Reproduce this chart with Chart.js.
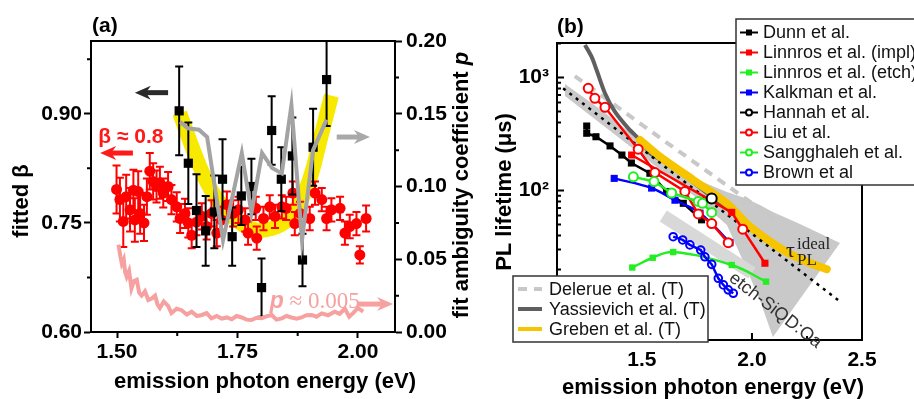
<!DOCTYPE html>
<html>
  <head>
    <meta charset="UTF-8" />
    <title>Fitted beta and PL lifetime</title>
    <script src="https://cdn.jsdelivr.net/npm/chart.js"></script>
    <style>
      body {
        margin: 0;
        background: #fff;
      }
      #wrap {
        position: relative;
        width: 914px;
        height: 399px;
      }
      #wrap canvas {
        position: absolute;
        left: 0;
        top: 0;
      }
    </style>
  </head>
  <body>
    <div id="wrap">
      <canvas id="chartA" width="914" height="399"></canvas>
      <canvas id="chartB" width="914" height="399"></canvas>
    </div>
    <script>
      // ---------- panel (a): fitted beta (left axis) ----------
      const betaE = [1.499, 1.506, 1.513, 1.519, 1.527, 1.534, 1.537, 1.544, 1.548, 1.556, 1.562, 1.568, 1.575, 1.582, 1.589, 1.596, 1.606, 1.613, 1.624, 1.631, 1.641, 1.648, 1.655, 1.665, 1.676, 1.686, 1.696, 1.707, 1.717, 1.728, 1.741, 1.752, 1.766, 1.772, 1.788, 1.79, 1.804, 1.817, 1.828, 1.842, 1.851, 1.865, 1.869, 1.88, 1.9, 1.911, 1.925, 1.935, 1.945, 1.963, 1.973, 1.983, 1.997, 2.004, 2.017];
      const betaVal = [0.796, 0.782, 0.752, 0.786, 0.768, 0.795, 0.754, 0.793, 0.763, 0.75, 0.786, 0.821, 0.807, 0.8, 0.805, 0.791, 0.8, 0.782, 0.772, 0.756, 0.763, 0.75, 0.733, 0.751, 0.759, 0.745, 0.763, 0.736, 0.754, 0.775, 0.763, 0.768, 0.754, 0.736, 0.77, 0.729, 0.756, 0.772, 0.759, 0.772, 0.77, 0.791, 0.749, 0.763, 0.756, 0.791, 0.782, 0.756, 0.768, 0.77, 0.736, 0.745, 0.749, 0.706, 0.756];
      const betaErr = [0.033, 0.03, 0.035, 0.03, 0.03, 0.028, 0.03, 0.028, 0.028, 0.025, 0.025, 0.025, 0.025, 0.022, 0.022, 0.02, 0.02, 0.02, 0.02, 0.02, 0.02, 0.02, 0.018, 0.018, 0.018, 0.018, 0.018, 0.018, 0.018, 0.018, 0.018, 0.018, 0.016, 0.016, 0.016, 0.016, 0.016, 0.016, 0.016, 0.016, 0.016, 0.016, 0.016, 0.016, 0.016, 0.016, 0.016, 0.016, 0.016, 0.016, 0.016, 0.016, 0.016, 0.012, 0.018];

      const sqE = [1.629, 1.648, 1.665, 1.684, 1.702, 1.719, 1.739, 1.758, 1.779, 1.8, 1.821, 1.841, 1.864, 1.885, 1.907, 1.935];
      const sqBeta = [0.904, 0.832, 0.767, 0.739, 0.765, 0.81, 0.731, 0.787, 0.8, 0.661, 0.877, 0.81, 0.842, 0.699, 0.854, 0.947];
      const sqErr = [0.061, 0.056, 0.05, 0.048, 0.05, 0.055, 0.04, 0.04, 0.038, 0.04, 0.047, 0.044, 0.053, 0.036, 0.053, 0.064];

      const bandE = [1.63, 1.672, 1.7, 1.73, 1.76, 1.79, 1.82, 1.85, 1.875, 1.9, 1.92, 1.945];
      const bandBeta = [0.901, 0.827, 0.79, 0.765, 0.748, 0.74, 0.742, 0.752, 0.772, 0.81, 0.86, 0.925];

      // panel (a): fit ambiguity coefficient p (right axis)
      const grayE = [1.631, 1.647, 1.67, 1.687, 1.72, 1.759, 1.779, 1.801, 1.822, 1.842, 1.862, 1.884, 1.907, 1.935];
      const grayP = [0.1445, 0.14, 0.139, 0.134, 0.063, 0.123, 0.082, 0.123, 0.1127, 0.109, 0.156, 0.063, 0.125, 0.146];

      const pinkE = [1.503, 1.507, 1.51, 1.514, 1.517, 1.52, 1.525, 1.53, 1.535, 1.541, 1.546, 1.551, 1.558, 1.565, 1.572, 1.579, 1.584, 1.589, 1.597, 1.606, 1.613, 1.624, 1.634, 1.645, 1.655, 1.666, 1.676, 1.686, 1.696, 1.707, 1.717, 1.728, 1.738, 1.748, 1.759, 1.769, 1.779, 1.79, 1.8, 1.81, 1.821, 1.831, 1.842, 1.852, 1.862, 1.873, 1.883, 1.893, 1.904, 1.914, 1.925, 1.938, 1.952, 1.962, 1.973, 1.982, 1.99, 2.0, 2.011];
      const pinkP = [0.06, 0.052, 0.047, 0.05, 0.041, 0.038, 0.042, 0.03, 0.035, 0.036, 0.027, 0.025, 0.028, 0.022, 0.023, 0.025, 0.019, 0.0165, 0.021, 0.018, 0.013, 0.016, 0.015, 0.012, 0.014, 0.011, 0.0117, 0.013, 0.0094, 0.011, 0.0092, 0.01, 0.0087, 0.011, 0.01, 0.0085, 0.0082, 0.0098, 0.0094, 0.0108, 0.0117, 0.0085, 0.0094, 0.011, 0.01, 0.0092, 0.01, 0.0115, 0.0117, 0.0105, 0.0128, 0.0115, 0.014, 0.0125, 0.016, 0.0105, 0.013, 0.0165, 0.014];

      const eTicksA = [1.5, 1.75, 2.0];
      const eMinorA = [1.625, 1.875];
      const betaTicks = [0.6, 0.75, 0.9];
      const betaMinor = [0.675, 0.825, 0.975];
      const pTicks = [0, 0.05, 0.1, 0.15, 0.2];
      const pMinor = [0.025, 0.075, 0.125, 0.175];

      // ---------- panel (b): PL lifetime (us) ----------
      const dunnE = [1.249, 1.249, 1.291, 1.355, 1.409, 1.452, 1.536, 1.612, 1.688, 1.771];
      const dunnTau = [372, 321, 299, 248, 206, 175, 142, 98, 77, 55];
      const linImplE = [1.453, 1.908, 2.059];
      const linImplTau = [206, 64, 22.7];
      const linEtchE = [1.456, 1.549, 1.642, 1.908, 2.064];
      const linEtchTau = [20.8, 25.4, 28.5, 21.9, 15.6];
      const kalkE = [1.374, 1.544, 1.65, 1.764, 1.9];
      const kalkTau = [128, 105, 82, 63, 34.5];
      const hannahE = [1.817];
      const hannahTau = [85];
      const liuE = [1.256, 1.286, 1.332, 1.483, 1.559, 1.695, 1.756, 1.817, 1.892];
      const liuTau = [802, 654, 545, 232, 144, 98, 62, 51, 34.5];
      const liuLoneE = [1.958];
      const liuLoneTau = [45.5];
      const sangE = [1.461, 1.555, 1.635, 1.756, 1.775, 1.817];
      const sangTau = [132, 120, 95, 80, 77, 64];
      const brownE = [1.642, 1.685, 1.718, 1.767, 1.786, 1.817, 1.847, 1.87, 1.892, 1.915];
      const brownTau = [39, 36.5, 33, 29.7, 25.9, 22.2, 16.7, 14.6, 13.2, 12.3];

      // theory curves
      const delerueE = [1.195, 1.6, 2.097];
      const delerueTau = [1030, 276, 56.8];
      const yassE = [1.241, 1.271, 1.294, 1.332, 1.377, 1.438, 1.499, 1.536, 1.605, 1.71, 1.817, 1.9];
      const yassTau = [1940, 1528, 1165, 725, 498, 355, 270, 215, 178, 128, 88, 66];
      const grebenE = [1.491, 1.582, 1.733, 1.885, 1.991, 2.142, 2.249, 2.34];
      const grebenTau = [280, 199, 124, 77, 47.9, 29.7, 23.4, 20.1];
      const idealE = [1.142, 2.4];
      const idealTau = [802, 10.4];
      const fanE = [1.15, 1.309, 1.491, 1.732, 1.886, 1.968, 2.036, 2.095, 2.218, 2.4];
      const fanHigh = [876, 526, 280, 129, 97, 85.8, 74.4, 64.5, 50.5, 34.3];
      const fanLow = [686, 396, 210, 91.3, 49.5, 21.9, 10.7, 5.05, 10.96, 34.3];
      const etchBandE = [1.597, 2.0];
      const etchBandTau = [59.5, 18.6];

      const eTicksB = [1.5, 2.0, 2.5];
      const eMinorB = [1.25, 1.75, 2.25];
      const tauTicks = [100, 1000];
      const tauTickLabels = ["10²", "10³"];
      const tauMinor = [5, 6, 7, 8, 9, 20, 30, 40, 50, 60, 70, 80, 90, 200, 300, 400, 500, 600, 700, 800, 900, 2000];

      const refNames = ["Dunn et al.", "Linnros et al. (impl)", "Linnros et al. (etch)", "Kalkman et al.", "Hannah et al.", "Liu et al.", "Sangghaleh et al.", "Brown et al"];
      const theoryNames = ["Delerue et al. (T)", "Yassievich et al. (T)", "Greben et al. (T)"];

      // ---------- helpers ----------
      const SANS = "'Liberation Sans', Arial, sans-serif";
      const SERIF = "'Liberation Serif', 'Times New Roman', serif";
      const tickFont = { family: SANS, size: 21, weight: "bold" };
      const pts = (xs, ys) => xs.map((x, i) => ({ x: x, y: ys[i] }));

      function arrow(ctx, x1, x2, y, color, w) {
        const dir = Math.sign(x2 - x1);
        ctx.strokeStyle = color;
        ctx.fillStyle = color;
        ctx.lineWidth = w;
        ctx.beginPath();
        ctx.moveTo(x1, y);
        ctx.lineTo(x2 - dir * 10, y);
        ctx.stroke();
        ctx.beginPath();
        ctx.moveTo(x2, y);
        ctx.lineTo(x2 - dir * 16, y - 7);
        ctx.lineTo(x2 - dir * 11, y);
        ctx.lineTo(x2 - dir * 16, y + 7);
        ctx.closePath();
        ctx.fill();
      }

      function upText(ctx, parts, cx, cy) {
        // parts: [[text, font], ...] drawn rotated -90deg, centred on cy, baseline at cx
        ctx.save();
        ctx.translate(cx, cy);
        ctx.rotate(-Math.PI / 2);
        ctx.textBaseline = "alphabetic";
        ctx.textAlign = "left";
        let total = 0;
        parts.forEach((p) => {
          ctx.font = p[1];
          total += ctx.measureText(p[0]).width;
        });
        let x = -total / 2;
        parts.forEach((p) => {
          ctx.font = p[1];
          ctx.fillText(p[0], x, 0);
          x += ctx.measureText(p[0]).width;
        });
        ctx.restore();
      }

      // error bars drawn just before their dataset
      const errorBars = {
        id: "errorBars",
        beforeDatasetDraw(chart, args) {
          const ds = chart.data.datasets[args.index];
          if (!ds.errors) return;
          const ctx = chart.ctx;
          const a = chart.chartArea;
          const ys = chart.scales[ds.yAxisID];
          ctx.save();
          ctx.beginPath();
          ctx.rect(a.left, a.top, a.right - a.left, a.bottom - a.top);
          ctx.clip();
          ctx.strokeStyle = ds.errColor;
          ctx.lineWidth = ds.errWidth;
          ctx.beginPath();
          ds.data.forEach((p, i) => {
            const x = args.meta.data[i].x;
            const top = ys.getPixelForValue(p.y + ds.errors[i]);
            const bot = ys.getPixelForValue(p.y - ds.errors[i]);
            const c = ds.errCap;
            ctx.moveTo(x, top);
            ctx.lineTo(x, bot);
            ctx.moveTo(x - c, top);
            ctx.lineTo(x + c, top);
            ctx.moveTo(x - c, bot);
            ctx.lineTo(x + c, bot);
          });
          ctx.stroke();
          ctx.restore();
        },
      };

      // frame, minor ticks, titles and notes of panel (a)
      const decorA = {
        id: "decorA",
        afterDraw(chart) {
          const { ctx, chartArea: a } = chart;
          const sx = chart.scales.x, sl = chart.scales.yL, sr = chart.scales.yR;
          ctx.save();
          ctx.strokeStyle = "#000";
          ctx.lineWidth = 2;
          ctx.strokeRect(a.left, a.top, a.right - a.left, a.bottom - a.top);
          ctx.beginPath();
          betaMinor.forEach((v) => {
            const y = sl.getPixelForValue(v);
            ctx.moveTo(a.left, y);
            ctx.lineTo(a.left - 4, y);
          });
          pMinor.forEach((v) => {
            const y = sr.getPixelForValue(v);
            ctx.moveTo(a.right, y);
            ctx.lineTo(a.right + 4, y);
          });
          eMinorA.forEach((v) => {
            const x = sx.getPixelForValue(v);
            ctx.moveTo(x, a.bottom);
            ctx.lineTo(x, a.bottom + 4);
          });
          ctx.stroke();

          ctx.fillStyle = "#000";
          ctx.font = "bold 21px " + SANS;
          ctx.textAlign = "left";
          ctx.textBaseline = "alphabetic";
          ctx.fillText("(a)", 92, 32);

          ctx.font = "bold 22px " + SANS;
          ctx.textAlign = "center";
          ctx.fillText("emission photon energy (eV)", 265, 388);
          upText(ctx, [["fitted β", "bold 22px " + SANS]], 28, 201);
          upText(ctx, [["fit ambiguity coefficient ", "bold 22px " + SANS], ["p", "italic bold 22px " + SANS]], 468, 185);

          // notes
          arrow(ctx, sx.getPixelForValue(1.606), sx.getPixelForValue(1.537), sl.getPixelForValue(0.929), "#2b2b2b", 5);
          arrow(ctx, sx.getPixelForValue(1.533), sx.getPixelForValue(1.465), sl.getPixelForValue(0.846), "#ff1a1a", 5);
          arrow(ctx, sx.getPixelForValue(1.956), sx.getPixelForValue(2.025), sr.getPixelForValue(0.134), "#a9a9a9", 5);
          arrow(ctx, sx.getPixelForValue(2.0), sx.getPixelForValue(2.073), sr.getPixelForValue(0.0192), "#f6a0a0", 5);

          ctx.textAlign = "left";
          ctx.fillStyle = "#ff1a1a";
          ctx.font = "bold 21px " + SANS;
          ctx.fillText("β ≈ 0.8", sx.getPixelForValue(1.461), sl.getPixelForValue(0.86));

          ctx.fillStyle = "#f6a0a0";
          const px = sx.getPixelForValue(1.817), py = sr.getPixelForValue(0.0165);
          ctx.font = "italic bold 23px " + SANS;
          ctx.fillText("p", px, py);
          const pw = ctx.measureText("p").width;
          ctx.font = "23px " + SERIF;
          ctx.fillText(" ≈ 0.005", px + pw, py);
          ctx.restore();
        },
      };

      // frame, inward ticks, titles, notes and legends of panel (b)
      const decorB = {
        id: "decorB",
        afterDraw(chart) {
          const { ctx, chartArea: a } = chart;
          const sx = chart.scales.x, sy = chart.scales.y;
          ctx.save();
          ctx.strokeStyle = "#000";
          ctx.lineWidth = 2;
          ctx.strokeRect(a.left, a.top, a.right - a.left, a.bottom - a.top);
          ctx.beginPath();
          eTicksB.concat(eMinorB).forEach((v) => {
            const x = sx.getPixelForValue(v);
            const len = eTicksB.includes(v) ? 7 : 4;
            ctx.moveTo(x, a.bottom);
            ctx.lineTo(x, a.bottom - len);
          });
          [10].concat(tauTicks, tauMinor).forEach((v) => {
            const y = sy.getPixelForValue(v);
            const len = v === 10 || tauTicks.includes(v) ? 7 : 4;
            ctx.moveTo(a.left, y);
            ctx.lineTo(a.left + len, y);
          });
          ctx.stroke();

          ctx.fillStyle = "#000";
          ctx.font = "bold 21px " + SANS;
          ctx.textAlign = "left";
          ctx.textBaseline = "alphabetic";
          ctx.fillText("(b)", 557, 33);
          ctx.font = "bold 22px " + SANS;
          ctx.textAlign = "center";
          ctx.fillText("emission photon energy (eV)", 713, 394);
          upText(ctx, [["PL lifetime (μs)", "bold 22px " + SANS]], 511, 192);

          // tau_PL^ideal
          ctx.fillStyle = "#222";
          ctx.textAlign = "left";
          const tx = sx.getPixelForValue(2.155), ty = sy.getPixelForValue(25.8);
          ctx.font = "22px " + SERIF;
          ctx.fillText("τ", tx, ty);
          ctx.font = "17px " + SERIF;
          ctx.fillText("ideal", tx + 11, ty - 8);
          ctx.fillText("PL", tx + 11, ty + 8);

          // etch-SiQD:Oa along the band
          ctx.save();
          ctx.translate(sx.getPixelForValue(1.891), sy.getPixelForValue(16.1));
          ctx.rotate((37.7 * Math.PI) / 180);
          ctx.font = "18px " + SANS;
          ctx.fillStyle = "#333";
          ctx.fillText("etch-SiQD:Oa", 0, 0);
          ctx.restore();

          // legend of measured data
          const dsets = chart.data.datasets;
          ctx.lineWidth = 1.5;
          ctx.strokeStyle = "#333";
          ctx.fillStyle = "#fff";
          ctx.fillRect(736, 19, 190, 166);
          ctx.strokeRect(736, 19, 190, 166);
          ctx.font = "18px " + SANS;
          ctx.textBaseline = "middle";
          refNames.forEach((name, i) => {
            const ds = dsets.find((d) => d.label === name);
            const y = 32.5 + i * 20;
            ctx.strokeStyle = ds.borderColor;
            ctx.lineWidth = 2;
            ctx.beginPath();
            ctx.moveTo(740, y);
            ctx.lineTo(758, y);
            ctx.stroke();
            if (ds.pointStyle === "rect") {
              ctx.fillStyle = ds.borderColor;
              ctx.fillRect(746, y - 3, 6, 6);
            } else {
              ctx.fillStyle = "#fff";
              ctx.beginPath();
              ctx.arc(749, y, 3, 0, Math.PI * 2);
              ctx.fill();
              ctx.stroke();
            }
            ctx.fillStyle = "#111";
            ctx.fillText(name, 763, y + 1);
          });

          // legend of theory curves
          ctx.lineWidth = 1.5;
          ctx.strokeStyle = "#333";
          ctx.fillStyle = "#fff";
          ctx.fillRect(513, 276, 195, 66);
          ctx.strokeRect(513, 276, 195, 66);
          theoryNames.forEach((name, i) => {
            const ds = dsets.find((d) => d.label === name);
            const y = 289 + i * 20;
            ctx.strokeStyle = ds.borderColor;
            ctx.lineWidth = 4;
            ctx.setLineDash(ds.borderDash || []);
            ctx.beginPath();
            ctx.moveTo(518, y);
            ctx.lineTo(542, y);
            ctx.stroke();
            ctx.setLineDash([]);
            ctx.fillStyle = "#111";
            ctx.fillText(name, 549, y + 1);
          });
          ctx.restore();
        },
      };

      // ---------- chart (a) ----------
      new Chart(document.getElementById("chartA"), {
        type: "scatter",
        data: {
          datasets: [
            {
              label: "band",
              data: pts(bandE, bandBeta),
              yAxisID: "yL",
              showLine: true,
              borderColor: "#f7ea00",
              borderWidth: 15,
              pointRadius: 0,
              tension: 0.4,
              order: 5,
            },
            {
              label: "beta",
              data: pts(betaE, betaVal),
              yAxisID: "yL",
              errors: betaErr,
              errColor: "#ff0000",
              errWidth: 2,
              errCap: 4,
              pointRadius: 5.5,
              pointBackgroundColor: "#ff0000",
              pointBorderColor: "#ff0000",
              pointBorderWidth: 0,
              order: 4,
            },
            {
              label: "beta squares",
              data: pts(sqE, sqBeta),
              yAxisID: "yL",
              errors: sqErr,
              errColor: "#000",
              errWidth: 2,
              errCap: 4,
              pointStyle: "rect",
              pointRadius: 6.5,
              pointBackgroundColor: "#000",
              pointBorderColor: "#000",
              pointBorderWidth: 0,
              order: 3,
            },
            {
              label: "p gray",
              data: pts(grayE, grayP),
              yAxisID: "yR",
              showLine: true,
              borderColor: "#a3a3a3",
              borderWidth: 4,
              pointRadius: 0,
              order: 2,
            },
            {
              label: "p pink",
              data: pts(pinkE, pinkP),
              yAxisID: "yR",
              showLine: true,
              borderColor: "#f6a0a0",
              borderWidth: 4,
              pointRadius: 0,
              order: 1,
            },
          ],
        },
        options: {
          responsive: false,
          animation: false,
          events: [],
          layout: { padding: { left: 0, top: 41, right: 454, bottom: 0 } },
          plugins: { legend: { display: false }, tooltip: { enabled: false } },
          scales: {
            x: {
              type: "linear",
              min: 1.446,
              max: 2.077,
              afterBuildTicks: (s) => {
                s.ticks = eTicksA.map((v) => ({ value: v }));
              },
              afterFit: (s) => {
                s.height = 67;
              },
              ticks: { font: tickFont, color: "#000", padding: 2, maxRotation: 0, autoSkip: false, callback: (v) => v.toFixed(2) },
              grid: { drawOnChartArea: false, tickLength: 6, tickWidth: 2, tickColor: "#000" },
              border: { color: "#000", width: 2 },
            },
            yL: {
              type: "linear",
              position: "left",
              min: 0.6,
              max: 1.0,
              afterBuildTicks: (s) => {
                s.ticks = betaTicks.map((v) => ({ value: v }));
              },
              afterFit: (s) => {
                s.width = 91;
              },
              ticks: { font: tickFont, color: "#000", padding: 2, autoSkip: false, callback: (v) => v.toFixed(2) },
              grid: { drawOnChartArea: false, tickLength: 7, tickWidth: 2, tickColor: "#000" },
              border: { color: "#000", width: 2 },
            },
            yR: {
              type: "linear",
              position: "right",
              min: 0,
              max: 0.2,
              afterBuildTicks: (s) => {
                s.ticks = pTicks.map((v) => ({ value: v }));
              },
              afterFit: (s) => {
                s.width = 65;
              },
              ticks: { font: tickFont, color: "#000", padding: 4, autoSkip: false, callback: (v) => v.toFixed(2) },
              grid: { drawOnChartArea: false, tickLength: 7, tickWidth: 2, tickColor: "#000" },
              border: { color: "#000", width: 2 },
            },
          },
        },
        plugins: [errorBars, decorA],
      });

      // ---------- chart (b) ----------
      const theory = (label, xs, ys, extra) =>
        Object.assign({ label: label, data: pts(xs, ys), showLine: true, pointRadius: 0, fill: false, tension: 0 }, extra);
      const series = (label, xs, ys, color, marker, extra) =>
        Object.assign(
          {
            label: label,
            data: pts(xs, ys),
            showLine: true,
            borderColor: color,
            borderWidth: 2.5,
            pointStyle: marker === "rect" ? "rect" : "circle",
            pointRadius: marker === "rect" ? 5 : 4.5,
            pointBackgroundColor: marker === "rect" ? color : "#fff",
            pointBorderColor: color,
            pointBorderWidth: marker === "rect" ? 0 : 2,
            tension: 0,
          },
          extra
        );

      new Chart(document.getElementById("chartB"), {
        type: "scatter",
        data: {
          datasets: [
            theory("fan high", fanE, fanHigh, { borderWidth: 0, order: 20 }),
            theory("fan low", fanE, fanLow, { borderWidth: 0, fill: "-1", backgroundColor: "#c9c9c9", order: 20 }),
            theory("etch band", etchBandE, etchBandTau, { borderColor: "#d8d8d8", borderWidth: 13, order: 19 }),
            theory(theoryNames[0], delerueE, delerueTau, { borderColor: "#c8c8c8", borderWidth: 4, borderDash: [9, 7], order: 15 }),
            theory(theoryNames[1], yassE, yassTau, { borderColor: "#5f5f5f", borderWidth: 4, tension: 0.3, order: 14 }),
            theory(theoryNames[2], grebenE, grebenTau, { borderColor: "#f7c400", borderWidth: 8, borderCapStyle: "round", tension: 0.3, order: 13 }),
            theory("ideal", idealE, idealTau, { borderColor: "#000", borderWidth: 2.5, borderDash: [3, 5], order: 12 }),
            series(refNames[0], dunnE, dunnTau, "#000000", "rect", { order: 9 }),
            series(refNames[1], linImplE, linImplTau, "#ff0000", "rect", { order: 8 }),
            series(refNames[2], linEtchE, linEtchTau, "#22ee22", "rect", { tension: 0.4, pointRadius: 4.5, order: 7 }),
            series(refNames[3], kalkE, kalkTau, "#0000ff", "rect", { tension: 0.4, order: 6 }),
            series(refNames[4], hannahE, hannahTau, "#000000", "circle", { pointRadius: 5, order: 1 }),
            series(refNames[5], liuE, liuTau, "#ff0000", "circle", { order: 4 }),
            series("Liu lone", liuLoneE, liuLoneTau, "#ff0000", "circle", { showLine: false, order: 4 }),
            series(refNames[6], sangE, sangTau, "#22ee22", "circle", { order: 3 }),
            series(refNames[7], brownE, brownTau, "#0000ff", "circle", { pointRadius: 3.8, pointBackgroundColor: "rgba(255,255,255,0)", order: 2 }),
          ],
        },
        options: {
          responsive: false,
          animation: false,
          events: [],
          layout: { padding: { left: 0, top: 43, right: 52, bottom: 0 } },
          plugins: { legend: { display: false }, tooltip: { enabled: false } },
          scales: {
            x: {
              type: "linear",
              min: 1.114,
              max: 2.5,
              afterBuildTicks: (s) => {
                s.ticks = eTicksB.map((v) => ({ value: v }));
              },
              afterFit: (s) => {
                s.height = 59;
              },
              ticks: { font: tickFont, color: "#000", padding: 8, maxRotation: 0, autoSkip: false, callback: (v) => v.toFixed(1) },
              grid: { drawOnChartArea: false, drawTicks: false },
              border: { color: "#000", width: 2 },
            },
            y: {
              type: "logarithmic",
              min: 4.75,
              max: 2020,
              afterBuildTicks: (s) => {
                s.ticks = tauTicks.map((v) => ({ value: v }));
              },
              afterFit: (s) => {
                s.width = 557;
              },
              ticks: { font: tickFont, color: "#000", padding: 8, autoSkip: false, callback: (v) => tauTickLabels[tauTicks.indexOf(v)] },
              grid: { drawOnChartArea: false, drawTicks: false },
              border: { color: "#000", width: 2 },
            },
          },
        },
        plugins: [decorB],
      });
    </script>
  </body>
</html>
